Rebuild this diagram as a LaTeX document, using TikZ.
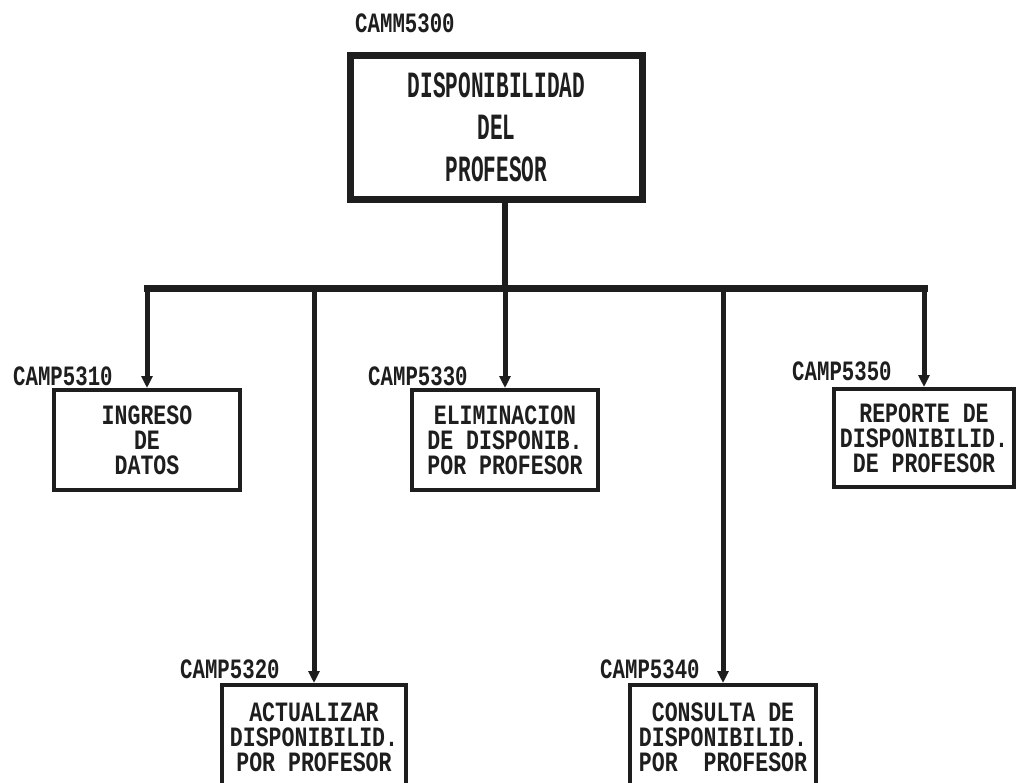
\documentclass[tikz,border=0pt]{standalone}
\usepackage{fontspec}
\usetikzlibrary{arrows.meta}
\newfontfamily\lblfont[FakeStretch=0.74]{Liberation Mono}
\newfontfamily\boxfont[FakeStretch=0.77]{Liberation Mono}
\newfontfamily\topfont[FakeStretch=0.57]{Liberation Mono}
\definecolor{ink}{HTML}{1E1E1E}
\begin{document}
\begin{tikzpicture}[x=1pt,y=-1pt,
  lbl/.style={font=\lblfont\bfseries\fontsize{28}{28}\selectfont, anchor=base west, inner sep=0pt, text=ink},
  modbox/.style={draw=ink, line width=4pt, inner sep=0pt, align=center, text=ink,
    font=\boxfont\bfseries\fontsize{28}{25}\selectfont},
  link/.style={draw=ink, line width=5pt, -{Triangle[width=11pt,length=12pt]}}
]
\useasboundingbox[fill=white] (0,0) rectangle (1016,783);

% top module
\node[draw=ink, line width=7pt, minimum width=292pt, minimum height=144pt, inner sep=0pt,
      align=center, text=ink, font=\topfont\bfseries\fontsize{37}{42}\selectfont]
  (top) at (496.5,127.5) {DISPONIBILIDAD\\DEL\\PROFESOR};
\node[lbl] (ltop) at (355,33) {CAMM5300};

% sub modules
\node[modbox, minimum width=186pt, minimum height=100pt] (b1) at (147,440) {INGRESO\\DE\\DATOS};
\node[modbox, minimum width=184pt, minimum height=104pt] (b2) at (314,737) {ACTUALIZAR\\DISPONIBILID.\\POR PROFESOR};
\node[modbox, minimum width=186pt, minimum height=100pt] (b3) at (505,440) {ELIMINACION\\DE DISPONIB.\\POR PROFESOR};
\node[modbox, minimum width=186pt, minimum height=104pt] (b4) at (723,737) {CONSULTA DE\\DISPONIBILID.\\POR\ \ PROFESOR};
\node[modbox, minimum width=180pt, minimum height=98pt] (b5) at (924,438) {REPORTE DE\\DISPONIBILID.\\DE PROFESOR};

\node[lbl] (l1) at (13,385) {CAMP5310};
\node[lbl] (l2) at (180,678) {CAMP5320};
\node[lbl] (l3) at (368,385) {CAMP5330};
\node[lbl] (l4) at (600,678) {CAMP5340};
\node[lbl] (l5) at (792,380) {CAMP5350};

% connectors
\coordinate (hub) at (505,289);
\coordinate (busL) at (b1.north |- hub);
\coordinate (busR) at (b5.north |- hub);
\draw[ink, line width=6pt] (top.south -| hub) -- (hub);
\draw[ink, line width=7pt, line cap=rect] (busL) -- (busR);
\draw[link] (busL) -- (b1.north);
\draw[link] (b2.north |- hub) -- (b2.north);
\draw[link] (hub) -- (b3.north);
\draw[link] (b4.north |- hub) -- (b4.north);
\draw[link] (busR) -- (b5.north);
\end{tikzpicture}
\end{document}
